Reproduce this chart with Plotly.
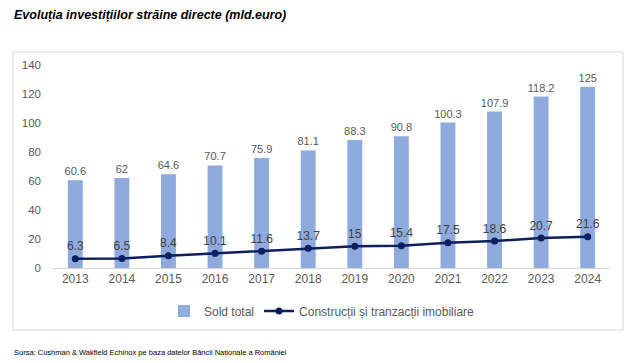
import plotly.graph_objects as go

years = ["2013", "2014", "2015", "2016", "2017", "2018", "2019", "2020", "2021", "2022", "2023", "2024"]
sold_total = [60.6, 62, 64.6, 70.7, 75.9, 81.1, 88.3, 90.8, 100.3, 107.9, 118.2, 125]
constructii = [6.3, 6.5, 8.4, 10.1, 11.6, 13.7, 15, 15.4, 17.5, 18.6, 20.7, 21.6]
y_ticks = [0, 20, 40, 60, 80, 100, 120, 140]

W, H = 639, 363
OX, OY = 8, 8  # page body margin offset
# target screen positions of plot area
SL, SR, ST, SB = 52, 611, 65, 268
L, R, T, B = SL - OX, SR - OX, ST - OY, SB - OY

def px(x):
    return (x - SL) / (SR - SL)

def py(y):
    return (SB - y) / (SB - ST)

font = "Liberation Sans, Arial, sans-serif"

fig = go.Figure()
fig.add_trace(go.Bar(
    x=years, y=sold_total, name="Sold total",
    marker=dict(color="#8FAADC", line=dict(width=0)),
    text=[f"{v:g}" for v in sold_total], textposition="outside",
    constraintext="none",
    textfont=dict(color="#595959", size=11, family=font),
    cliponaxis=False,
))
fig.add_trace(go.Scatter(
    x=years, y=constructii, name="Construcții și tranzacții imobiliare",
    mode="lines+markers+text",
    line=dict(color="#0C1F5E", width=2.5),
    marker=dict(color="#0C1F5E", size=7),
    text=[f"{v:g}" for v in constructii], textposition="top center",
    textfont=dict(color="#404040", size=12, family=font),
    cliponaxis=False,
))

fig.update_layout(
    width=W, height=H, autosize=False,
    margin=dict(l=L, r=W - R, t=T, b=H - B, pad=0, autoexpand=False),
    paper_bgcolor="white", plot_bgcolor="white",
    font=dict(family=font, color="#595959"),
    bargap=0.68,
    showlegend=True,
    legend=dict(orientation="h", x=px(322), xanchor="center", y=py(311), yanchor="middle",
                font=dict(size=12, color="#595959", family=font), itemwidth=30,
                traceorder="normal", bgcolor="rgba(0,0,0,0)"),
    xaxis=dict(type="category", range=[-0.5, len(years) - 0.5], autorange=False,
               showgrid=False, showline=True, linecolor="#D9D9D9", linewidth=1,
               automargin=False,
               ticks="", tickfont=dict(size=12, color="#595959", family=font), zeroline=False),
    yaxis=dict(range=[0, 140], tickvals=y_ticks, showgrid=False, showline=False, zeroline=False,
               automargin=False,
               ticks="", ticklabelstandoff=10,
               tickfont=dict(size=11.5, color="#595959", family=font)),
    shapes=[dict(type="rect", xref="paper", yref="paper",
                 x0=px(13), x1=px(623), y0=py(330), y1=py(52),
                 line=dict(color="#D9D9D9", width=1), fillcolor="rgba(0,0,0,0)", layer="below")],
    annotations=[
        dict(text="<b><i>Evoluția investițiilor străine directe (mld.euro)</i></b>",
             xref="paper", yref="paper", x=px(12), y=py(15), xanchor="left", yanchor="middle",
             showarrow=False, font=dict(size=12.5, color="#000000", family=font)),
        dict(text="Sursa: Cushman & Wakfield Echinox pe baza datelor Băncii Naționale a României",
             xref="paper", yref="paper", x=px(12), y=py(352), xanchor="left", yanchor="middle",
             showarrow=False, font=dict(size=7.5, color="#000000", family=font)),
    ],
)

fig.write_html("out.html")
